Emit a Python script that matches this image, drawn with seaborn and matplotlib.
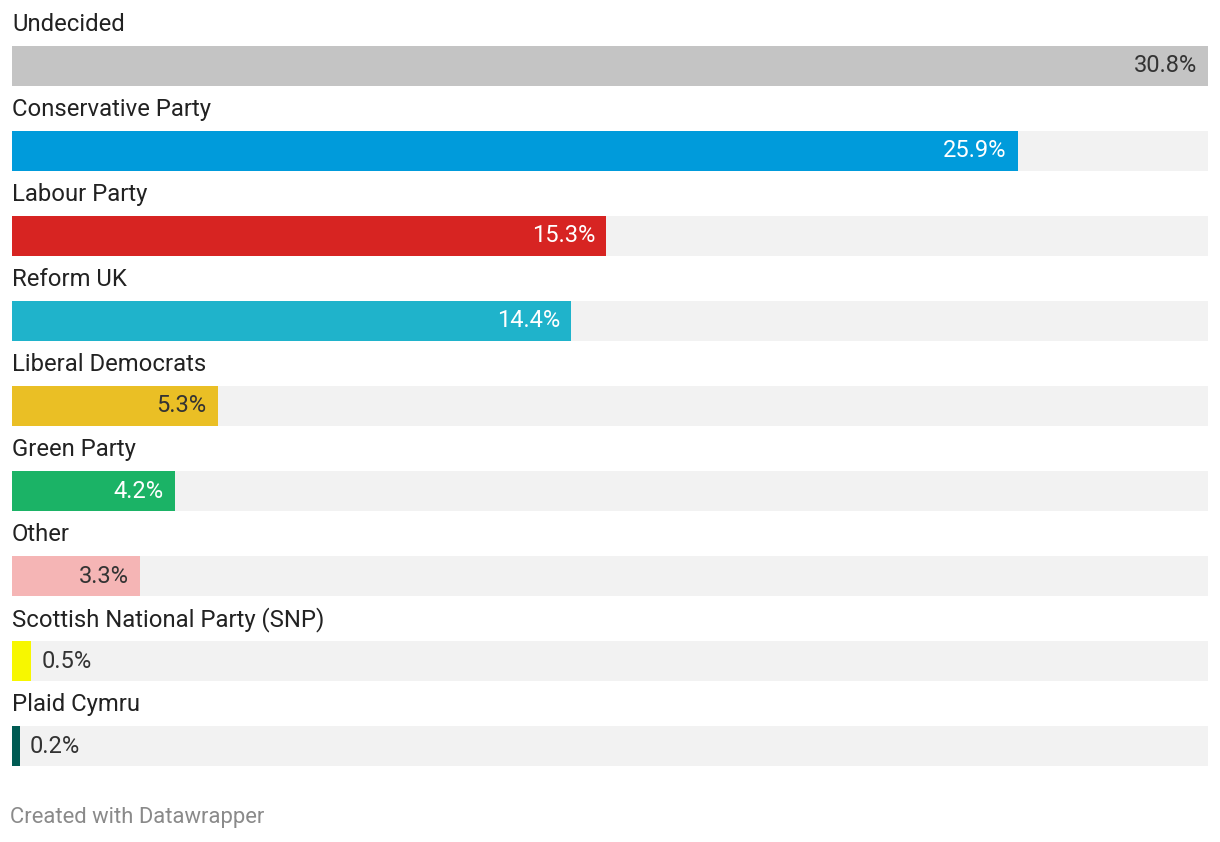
import matplotlib
matplotlib.use("Agg")
import matplotlib.pyplot as plt
import seaborn as sns
import pandas as pd

# Data
parties = ["Undecided", "Conservative Party", "Labour Party", "Reform UK",
           "Liberal Democrats", "Green Party", "Other",
           "Scottish National Party (SNP)", "Plaid Cymru"]
shares = [30.8, 25.9, 15.3, 14.4, 5.3, 4.2, 3.3, 0.5, 0.2]
colors = ["#c4c4c4", "#009bdb", "#d72422", "#1fb3cb", "#eabf25",
          "#1bb366", "#f5b5b5", "#f7f700", "#005b53"]
label_colors = ["#333333", "#ffffff", "#ffffff", "#ffffff", "#333333",
                "#ffffff", "#333333", "#333333", "#333333"]

df = pd.DataFrame({"party": parties, "share": shares})
full = max(shares)

sns.set_theme(style="white")
plt.rcParams["font.family"] = ["Roboto", "DejaVu Sans"]

fig = plt.figure(figsize=(12.2, 8.42), dpi=100)
ax = fig.add_axes([12 / 1220, 0, 1196 / 1220, 1])

# grey track behind each bar
sns.barplot(data=df.assign(track=full), x="track", y="party", color="#f2f2f2",
            width=0.47, ax=ax, saturation=1, linewidth=0)
sns.barplot(data=df, x="share", y="party", hue="party", palette=colors,
            width=0.47, ax=ax, legend=False, saturation=1, linewidth=0)

ax.set_xlim(0, full)
ax.set_ylim(9.129, -0.776)
ax.axis("off")

for i, (name, val) in enumerate(zip(parties, shares)):
    ax.text(0, i - 0.49, name, ha="left", va="center", fontsize=17.2,
            color="#222222")
    if val > 2:
        ax.annotate(f"{val}%", (val, i), xytext=(-8, 0), textcoords="offset points",
                    ha="right", va="center", fontsize=17, color=label_colors[i])
    else:
        ax.annotate(f"{val}%", (val, i), xytext=(7, 0), textcoords="offset points",
                    ha="left", va="center", fontsize=17, color=label_colors[i])

fig.text(10 / 1220, 1 - 818 / 842, "Created with Datawrapper", ha="left",
         va="center", fontsize=15.8, color="#8a8a8a")

fig.savefig("out.png", dpi=100)
